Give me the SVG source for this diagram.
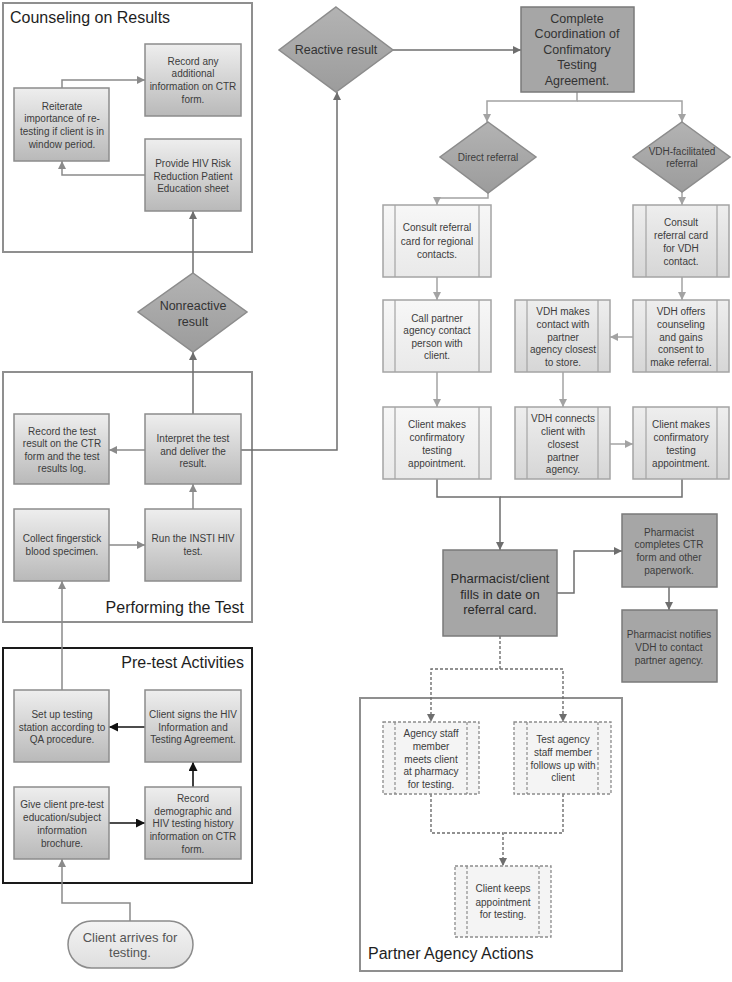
<svg xmlns="http://www.w3.org/2000/svg" width="732" height="982" viewBox="0 0 732 982">
<defs>
<linearGradient id="gBox" x1="0" y1="0" x2="0" y2="1"><stop offset="0" stop-color="#eeeeee"/><stop offset="1" stop-color="#b9b9b9"/></linearGradient>
<linearGradient id="gLight" x1="0" y1="0" x2="0" y2="1"><stop offset="0" stop-color="#f7f7f7"/><stop offset="1" stop-color="#e9e9e9"/></linearGradient>
<linearGradient id="gMid" x1="0" y1="0" x2="0" y2="1"><stop offset="0" stop-color="#eeeeee"/><stop offset="1" stop-color="#d6d6d6"/></linearGradient>
<linearGradient id="gDia" x1="0" y1="0" x2="0" y2="1"><stop offset="0" stop-color="#b3b3b3"/><stop offset="1" stop-color="#9c9c9c"/></linearGradient>
<linearGradient id="gPill" x1="0" y1="0" x2="0" y2="1"><stop offset="0" stop-color="#f4f4f4"/><stop offset="1" stop-color="#dedede"/></linearGradient>
<marker id="aG" viewBox="0 0 10 10" refX="10" refY="5" markerWidth="9" markerHeight="8" orient="auto" markerUnits="userSpaceOnUse"><path d="M0,0 L10,5 L0,10 z" fill="#8a8a8a"/></marker>
<marker id="aD" viewBox="0 0 10 10" refX="10" refY="5" markerWidth="9" markerHeight="8" orient="auto" markerUnits="userSpaceOnUse"><path d="M0,0 L10,5 L0,10 z" fill="#6e6e6e"/></marker>
<marker id="aB" viewBox="0 0 10 10" refX="10" refY="5" markerWidth="10" markerHeight="9" orient="auto" markerUnits="userSpaceOnUse"><path d="M0,0 L10,5 L0,10 z" fill="#111111"/></marker>
<marker id="aL" viewBox="0 0 10 10" refX="10" refY="5" markerWidth="9" markerHeight="8" orient="auto" markerUnits="userSpaceOnUse"><path d="M0,0 L10,5 L0,10 z" fill="#a3a3a3"/></marker>
</defs>
<style>
text{font-family:"Liberation Sans",Arial,sans-serif;fill:#3c3c3c;text-anchor:middle}
.t{font-size:10px}
.d{font-size:12.5px;fill:#333}
.title{font-size:16px;fill:#1e1e1e;text-anchor:start}
.titleR{font-size:16px;fill:#1e1e1e;text-anchor:end}
.big{font-size:13px;fill:#2a2a2a}
.cont{fill:#ffffff;stroke:#8f8f8f;stroke-width:2}
.contB{fill:#ffffff;stroke:#1a1a1a;stroke-width:2}
.box{fill:url(#gBox);stroke:#8c8c8c;stroke-width:1.5}
.dark{fill:#a6a6a6;stroke:#7a7a7a;stroke-width:1.5}
.dia{fill:url(#gDia);stroke:#8c8c8c;stroke-width:1.5}
.pl{fill:url(#gLight);stroke:#a4a4a4;stroke-width:1.5}
.pm{fill:url(#gMid);stroke:#a4a4a4;stroke-width:1.5}
.pd{fill:#f4f4f4;stroke:#8c8c8c;stroke-width:1.3;stroke-dasharray:3 2}
.in{stroke:#a4a4a4;stroke-width:1.2;fill:none}
.ind{stroke:#8c8c8c;stroke-width:1.2;fill:none;stroke-dasharray:3 2}
.c{fill:none;stroke:#8a8a8a;stroke-width:1.5}
.cD{fill:none;stroke:#6e6e6e;stroke-width:1.5}
.cB{fill:none;stroke:#111;stroke-width:1.6}
.cL{fill:none;stroke:#a3a3a3;stroke-width:1.5}
.cS{fill:none;stroke:#6e6e6e;stroke-width:1.4;stroke-dasharray:3 2}
</style>
<g id="containers">
<rect class="cont" x="3" y="3" width="249" height="249"/>
<text class="title" x="10" y="23">Counseling on Results</text>
<rect class="cont" x="3" y="372" width="249" height="250"/>
<text class="titleR" x="244" y="613">Performing the Test</text>
<rect class="contB" x="3" y="648" width="249" height="235"/>
<text class="titleR" x="244" y="668">Pre-test Activities</text>
<rect class="cont" x="360" y="698" width="262" height="273"/>
<text class="title" x="368" y="959">Partner Agency Actions</text>
</g>
<g id="connectors">
<path class="c" d="M130,921 V903 H62 V859" marker-end="url(#aG)"/>
<path class="cB" d="M109,823 H145" marker-end="url(#aB)"/>
<path class="cB" d="M193,787 V762" marker-end="url(#aB)"/>
<path class="cB" d="M145,727 H109" marker-end="url(#aB)"/>
<path class="c" d="M62,690 V581" marker-end="url(#aG)"/>
<path class="c" d="M109,545 H145" marker-end="url(#aG)"/>
<path class="c" d="M193,509 V484" marker-end="url(#aG)"/>
<path class="c" d="M145,450 H109" marker-end="url(#aG)"/>
<path class="cD" d="M193,414 V352" marker-end="url(#aD)"/>
<path class="cD" d="M193,273 V211" marker-end="url(#aD)"/>
<path class="c" d="M145,175 H62 V161" marker-end="url(#aG)"/>
<path class="c" d="M62,88 V80 H145" marker-end="url(#aG)"/>
<path class="cD" d="M241,450 H337 V92" marker-end="url(#aD)"/>
<path class="cD" d="M393,50 H521" marker-end="url(#aD)"/>
<path class="cL" d="M577,92 V101 H487 V122" marker-end="url(#aL)"/>
<path class="cL" d="M577,101 H682 V122" marker-end="url(#aL)"/>
<path class="cL" d="M488,193 V198 H437 V205" marker-end="url(#aL)"/>
<path class="cL" d="M682,192 V205" marker-end="url(#aL)"/>
<path class="cL" d="M437,277 V300" marker-end="url(#aL)"/>
<path class="cL" d="M682,277 V300" marker-end="url(#aL)"/>
<path class="cL" d="M633,337 H610" marker-end="url(#aL)"/>
<path class="cL" d="M437,372 V407" marker-end="url(#aL)"/>
<path class="cL" d="M563,372 V407" marker-end="url(#aL)"/>
<path class="cL" d="M610,444 H633" marker-end="url(#aL)"/>
<path class="cD" d="M437,479 V497 H500 V550" marker-end="url(#aD)"/>
<path class="cD" d="M682,479 V497 H500"/>
<path class="cD" d="M557,593 H574 V551 H622" marker-end="url(#aD)"/>
<path class="cD" d="M669,587 V610" marker-end="url(#aD)"/>
<path class="cS" d="M500,636 V669 H431 V722" marker-end="url(#aD)"/>
<path class="cS" d="M500,669 H563 V722" marker-end="url(#aD)"/>
<path class="cS" d="M431,794 V833 H503 V866" marker-end="url(#aD)"/>
<path class="cS" d="M563,794 V833 H503"/>
</g>
<g id="record-any"><rect class="box" x="145" y="44" width="96" height="72"/>
<text class="t" x="193" y="65">Record any</text><text class="t" x="193" y="77">additional</text><text class="t" x="193" y="90">information on CTR</text><text class="t" x="193" y="103">form.</text></g>
<g id="reiterate"><rect class="box" x="14" y="88" width="95" height="73"/>
<text class="t" x="62" y="110">Reiterate</text><text class="t" x="62" y="122">importance of re-</text><text class="t" x="62" y="135">testing if client is in</text><text class="t" x="62" y="148">window period.</text></g>
<g id="provide"><rect class="box" x="145" y="139" width="96" height="72"/>
<text class="t" x="193" y="167">Provide HIV Risk</text><text class="t" x="193" y="180">Reduction Patient</text><text class="t" x="193" y="192">Education sheet</text></g>
<g id="nonreactive"><polygon class="dia" points="193,273 247,312 193,352 138,312"/>
<text class="d" x="193" y="310">Nonreactive</text><text class="d" x="193" y="326">result</text></g>
<g id="record-result"><rect class="box" x="14" y="414" width="95" height="70"/>
<text class="t" x="62" y="435">Record the test</text><text class="t" x="62" y="447">result on the CTR</text><text class="t" x="62" y="460">form and the test</text><text class="t" x="62" y="472">results log.</text></g>
<g id="interpret"><rect class="box" x="145" y="414" width="96" height="70"/>
<text class="t" x="193" y="442">Interpret the test</text><text class="t" x="193" y="455">and deliver the</text><text class="t" x="193" y="467">result.</text></g>
<g id="collect"><rect class="box" x="14" y="509" width="95" height="72"/>
<text class="t" x="62" y="542">Collect fingerstick</text><text class="t" x="62" y="555">blood specimen.</text></g>
<g id="run"><rect class="box" x="145" y="509" width="96" height="72"/>
<text class="t" x="193" y="542">Run the INSTI HIV</text><text class="t" x="193" y="555">test.</text></g>
<g id="setup"><rect class="box" x="14" y="690" width="95" height="72"/>
<text class="t" x="62" y="718">Set up testing</text><text class="t" x="62" y="731">station according to</text><text class="t" x="62" y="743">QA procedure.</text></g>
<g id="signs"><rect class="box" x="145" y="690" width="96" height="72"/>
<text class="t" x="193" y="718">Client signs the HIV</text><text class="t" x="193" y="731">Information and</text><text class="t" x="193" y="743">Testing Agreement.</text></g>
<g id="give"><rect class="box" x="14" y="787" width="95" height="72"/>
<text class="t" x="62" y="808">Give client pre-test</text><text class="t" x="62" y="821">education/subject</text><text class="t" x="62" y="834">information</text><text class="t" x="62" y="847">brochure.</text></g>
<g id="record-demo"><rect class="box" x="145" y="787" width="96" height="72"/>
<text class="t" x="193" y="802">Record</text><text class="t" x="193" y="815">demographic and</text><text class="t" x="193" y="827">HIV testing history</text><text class="t" x="193" y="840">information on CTR</text><text class="t" x="193" y="853">form.</text></g>
<g id="arrives"><rect x="68" y="921" width="125" height="47" rx="23.5" fill="url(#gPill)" stroke="#8c8c8c" stroke-width="1.5"/>
<text class="big" x="130" y="942" style="fill:#555">Client arrives for</text><text class="big" x="130" y="957" style="fill:#555">testing.</text></g>
<g id="reactive"><polygon class="dia" points="336,7 393,50 336,92 279,50"/>
<text class="d" x="336" y="54">Reactive result</text></g>
<g id="complete"><rect class="dark" x="521" y="7" width="113" height="85"/>
<text class="d" x="577" y="23">Complete</text><text class="d" x="577" y="38">Coordination of</text><text class="d" x="577" y="54">Confimatory</text><text class="d" x="577" y="69">Testing</text><text class="d" x="577" y="85">Agreement.</text></g>
<g id="direct"><polygon class="dia" points="488,122 536,157 488,193 440,157"/>
<text class="t" x="488" y="161">Direct referral</text></g>
<g id="vdh"><polygon class="dia" points="682,122 730,157 682,192 633,157"/>
<text class="t" x="682" y="155">VDH-facilitated</text><text class="t" x="682" y="167">referral</text></g>
<g id="consult-reg"><rect class="pl" x="383" y="205" width="108" height="72"/><path class="in" d="M395,205 V277 M479,205 V277"/>
<text class="t" x="437" y="231">Consult referral</text><text class="t" x="437" y="245">card for regional</text><text class="t" x="437" y="258">contacts.</text></g>
<g id="consult-vdh"><rect class="pm" x="633" y="205" width="96" height="72"/><path class="in" d="M646,205 V277 M717,205 V277"/>
<text class="t" x="681" y="226">Consult</text><text class="t" x="681" y="239">referral card</text><text class="t" x="681" y="252">for VDH</text><text class="t" x="681" y="265">contact.</text></g>
<g id="call"><rect class="pl" x="383" y="300" width="108" height="72"/><path class="in" d="M395,300 V372 M479,300 V372"/>
<text class="t" x="437" y="322">Call partner</text><text class="t" x="437" y="334">agency contact</text><text class="t" x="437" y="347">person with</text><text class="t" x="437" y="359">client.</text></g>
<g id="vdh-makes"><rect class="pm" x="515" y="300" width="95" height="72"/><path class="in" d="M527,300 V372 M598,300 V372"/>
<text class="t" x="563" y="315">VDH makes</text><text class="t" x="563" y="328">contact with</text><text class="t" x="563" y="341">partner</text><text class="t" x="563" y="353">agency closest</text><text class="t" x="563" y="366">to store.</text></g>
<g id="vdh-offers"><rect class="pm" x="633" y="300" width="96" height="72"/><path class="in" d="M646,300 V372 M717,300 V372"/>
<text class="t" x="681" y="315">VDH offers</text><text class="t" x="681" y="328">counseling</text><text class="t" x="681" y="341">and gains</text><text class="t" x="681" y="353">consent to</text><text class="t" x="681" y="366">make referral.</text></g>
<g id="client-makes-l"><rect class="pl" x="383" y="407" width="108" height="72"/><path class="in" d="M395,407 V479 M479,407 V479"/>
<text class="t" x="437" y="428">Client makes</text><text class="t" x="437" y="441">confirmatory</text><text class="t" x="437" y="454">testing</text><text class="t" x="437" y="467">appointment.</text></g>
<g id="vdh-connects"><rect class="pm" x="515" y="407" width="95" height="72"/><path class="in" d="M527,407 V479 M598,407 V479"/>
<text class="t" x="563" y="422">VDH connects</text><text class="t" x="563" y="435">client with</text><text class="t" x="563" y="448">closest</text><text class="t" x="563" y="461">partner</text><text class="t" x="563" y="473">agency.</text></g>
<g id="client-makes-r"><rect class="pm" x="633" y="407" width="96" height="72"/><path class="in" d="M646,407 V479 M717,407 V479"/>
<text class="t" x="681" y="428">Client makes</text><text class="t" x="681" y="441">confirmatory</text><text class="t" x="681" y="454">testing</text><text class="t" x="681" y="467">appointment.</text></g>
<g id="pharm-client"><rect class="dark" x="443" y="550" width="114" height="86"/>
<text class="big" x="500" y="583">Pharmacist/client</text><text class="big" x="500" y="599">fills in date on</text><text class="big" x="500" y="614">referral card.</text></g>
<g id="pharm-completes"><rect class="dark" x="622" y="514" width="95" height="73"/>
<text class="t" x="669" y="536">Pharmacist</text><text class="t" x="669" y="548">completes CTR</text><text class="t" x="669" y="561">form and other</text><text class="t" x="669" y="574">paperwork.</text></g>
<g id="pharm-notifies"><rect class="dark" x="622" y="610" width="95" height="72"/>
<text class="t" x="669" y="638">Pharmacist notifies</text><text class="t" x="669" y="651">VDH to contact</text><text class="t" x="669" y="664">partner agency.</text></g>
<g id="agency-staff"><rect class="pd" x="383" y="722" width="96" height="72"/><path class="ind" d="M395,722 V794 M467,722 V794"/>
<text class="t" x="431" y="737">Agency staff</text><text class="t" x="431" y="750">member</text><text class="t" x="431" y="763">meets client</text><text class="t" x="431" y="775">at pharmacy</text><text class="t" x="431" y="788">for testing.</text></g>
<g id="test-agency"><rect class="pd" x="514" y="722" width="97" height="72"/><path class="ind" d="M527,722 V794 M598,722 V794"/>
<text class="t" x="563" y="743">Test agency</text><text class="t" x="563" y="756">staff member</text><text class="t" x="563" y="769">follows up with</text><text class="t" x="563" y="781">client</text></g>
<g id="client-keeps"><rect class="pd" x="455" y="866" width="96" height="71"/><path class="ind" d="M467,866 V937 M539,866 V937"/>
<text class="t" x="503" y="892">Client keeps</text><text class="t" x="503" y="906">appointment</text><text class="t" x="503" y="918">for testing.</text></g>
</svg>
